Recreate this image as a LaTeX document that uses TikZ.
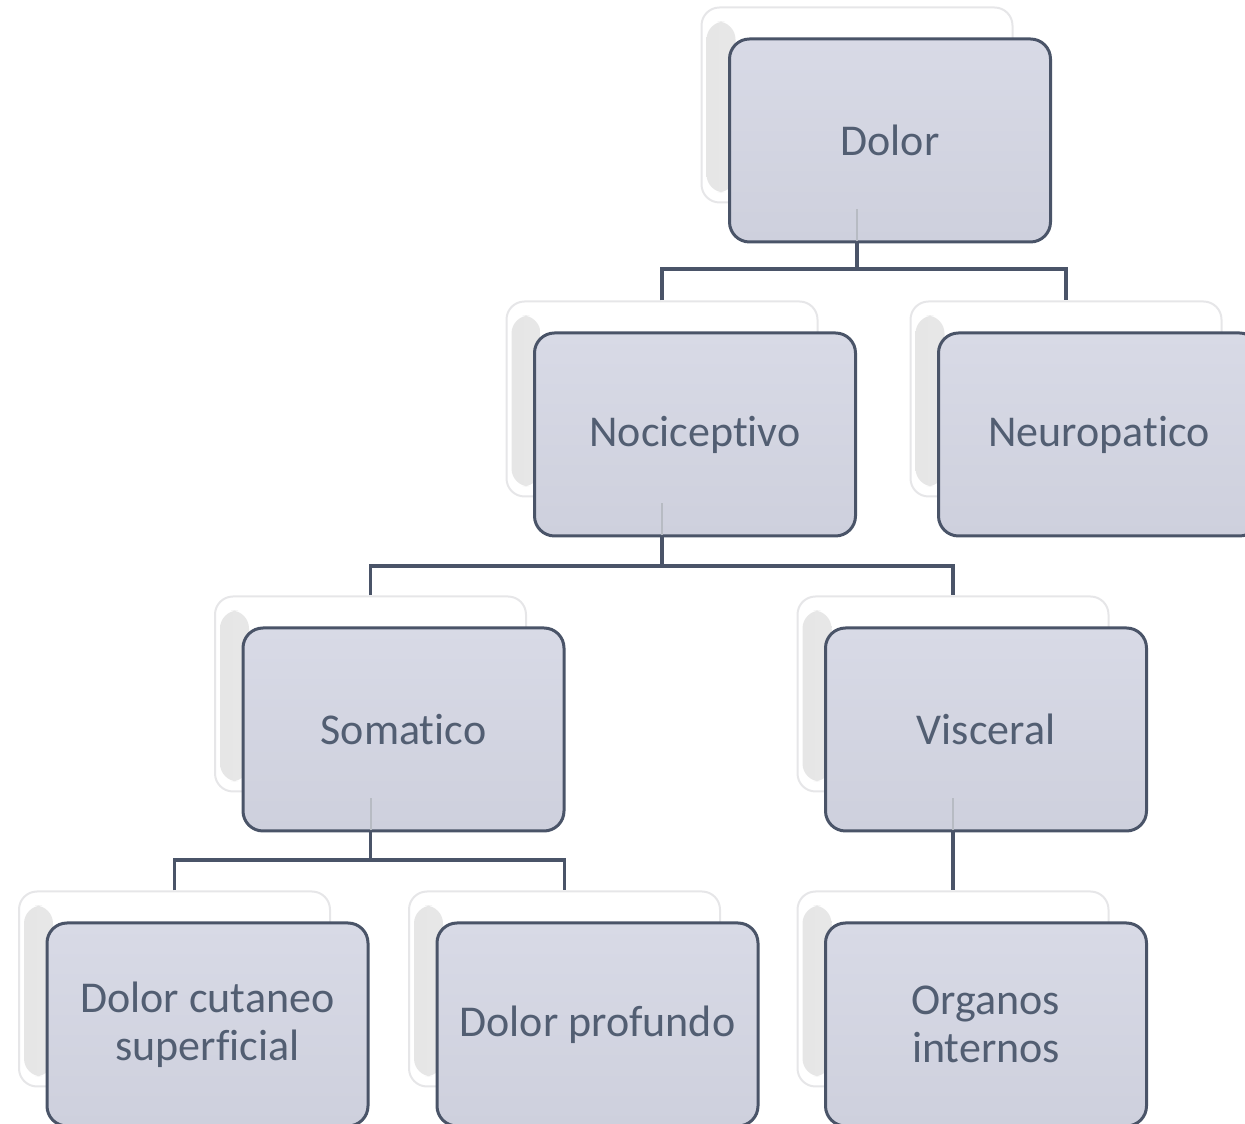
\documentclass[tikz,border=0pt]{standalone}
\usepackage{fontspec}
\setmainfont{Carlito}[Ligatures=NoCommon]
\usetikzlibrary{calc}

\definecolor{slate}{RGB}{74,84,104}
\definecolor{txt}{RGB}{82,94,114}
\definecolor{boxtop}{RGB}{216,218,230}
\definecolor{boxbot}{RGB}{206,208,221}
\definecolor{ghostedge}{RGB}{230,230,232}

\tikzset{
  mainbox/.style={rectangle, rounded corners=20pt, draw=slate, line width=3pt,
    top color=boxtop, bottom color=boxbot,
    minimum width=321pt, minimum height=203pt, inner sep=0pt,
    align=center, text=txt, font=\fontsize{44}{48}\selectfont},
  ghostbox/.style={rectangle, rounded corners=18pt, draw=ghostedge, line width=2pt,
    fill=white, minimum width=311pt, minimum height=195pt, inner sep=0pt,
    path picture={
      \shade[left color=gray!20, right color=gray!6]
        ([xshift=5pt,yshift=-14pt]path picture bounding box.north west)
        rectangle ([xshift=34pt,yshift=10pt]path picture bounding box.south west);
    }},
  conn/.style={draw=slate, line width=3.2pt},
  faint/.style={draw=slate!40, line width=2pt},
}

\begin{document}
\begin{tikzpicture}[x=1pt,y=1pt]
\useasboundingbox (0,0) rectangle (1245,1124);

% back layers of each box
\foreach \n/\x/\y in {dolor/890/983.5, noci/695/689.5, neuro/1099/689.5,
                      soma/403.5/394.5, visc/986/394.5,
                      cut/207.5/99.5, prof/597.5/99.5, org/986/99.5}
  \node[ghostbox] (\n S) at (\x-33,\y+35.5) {};

% tree connectors
\draw[conn] (dolorS.center |- 0,881) -- ++(0,-26) coordinate (b1);
\draw[conn] (nociS.north) |- (b1) -| (neuroS.north);

\draw[conn] (nociS.center |- 0,587) -- ++(0,-29) coordinate (b2);
\draw[conn] (somaS.north) |- (b2) -| (viscS.north);

\draw[conn] (somaS.center |- 0,292) -- ++(0,-28) coordinate (b3);
\draw[conn] (cutS.north) |- (b3) -| (profS.north);

\draw[conn] (viscS.center |- 0,292) -- (orgS.north);

% front boxes
\node[mainbox] (dolor) at (890,983.5) {Dolor};
\node[mainbox] (noci) at (695,689.5) {Nociceptivo};
\node[mainbox] (neuro) at (1099,689.5) {Neuropatico};
\node[mainbox] (soma) at (403.5,394.5) {Somatico};
\node[mainbox] (visc) at (986,394.5) {Visceral};
\node[mainbox] (cut) at (207.5,99.5) {Dolor cutaneo\\superficial};
\node[mainbox] (prof) at (597.5,99.5) {Dolor profundo};
\node[mainbox] (org) at (986,99.5) {Organos\\internos};

% connector stubs showing through the lower edge of each parent box
\foreach \p in {dolor, noci, soma, visc}
  \draw[faint] (\p S.center |- \p.south) ++(0,2) -- ++(0,32);
\end{tikzpicture}
\end{document}
